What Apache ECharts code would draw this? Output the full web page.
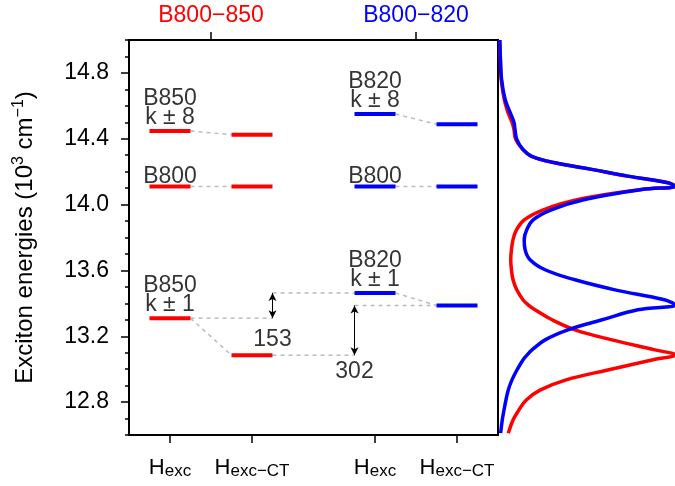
<!DOCTYPE html>
<html lang="en">
<head>
<meta charset="UTF-8">
<title>Exciton energies</title>
<script src="https://cdn.jsdelivr.net/npm/echarts@6/dist/echarts.min.js"></script>
<style>
  html, body { margin: 0; padding: 0; background: #fff; }
  #main { width: 675px; height: 486px; }
</style>
</head>
<body>
<div id="main"></div>
<script>
// diagram columns (x positions on a 0..9 axis)
var columnPos = [1, 3, 6, 8];
var columnSub = ['exc', 'exc\u2212CT', 'exc', 'exc\u2212CT'];
var systemPos = [2, 7];
var systemNames = ['B800\u2212850', 'B800\u2212820'];
var yTicks = [12.8, 13.2, 13.6, 14.0, 14.4, 14.8];

// exciton levels (10^3 cm^-1), order: k±1, B800, k±8
var levelNames850 = ['B850\nk \u00b1 1', 'B800', 'B850\nk \u00b1 8'];
var levelNames820 = ['B820\nk \u00b1 1', 'B800', 'B820\nk \u00b1 8'];
var exc850 = [13.31, 14.11, 14.447];
var ct850 = [13.085, 14.11, 14.425];
var exc820 = [13.463, 14.11, 14.55];
var ct820 = [13.387, 14.11, 14.488];

// shifts: [lower, upper]
var shift153 = [13.31, 13.463];
var shift302 = [13.085, 13.387];
var shiftLabels = ['153', '302'];

// spectra: energy grid and intensities of the two systems
var specE = [15.0, 14.883, 14.762, 14.64, 14.561, 14.50, 14.457, 14.396, 14.335, 14.293, 14.254, 14.214, 14.173, 14.133, 14.112, 14.092,
    14.031, 13.970, 13.909, 13.848, 13.787, 13.726, 13.665, 13.604, 13.543, 13.482, 13.422, 13.391, 13.361, 13.300, 13.239, 13.178,
    13.117, 13.087, 13.056, 12.995, 12.935, 12.874, 12.813, 12.752, 12.691, 12.611];
var spec850 = [0.01, 0.013, 0.018, 0.035, 0.056, 0.079, 0.09, 0.10, 0.14, 0.19, 0.32, 0.53, 0.73, 0.96, 1.0, 0.81,
    0.452, 0.26, 0.15, 0.105, 0.085, 0.076, 0.072, 0.076, 0.085, 0.106, 0.141, 0.17, 0.209, 0.305, 0.435, 0.644,
    0.887, 1.0, 0.87, 0.62, 0.385, 0.24, 0.16, 0.118, 0.085, 0.058];
var spec820 = [0.01, 0.014, 0.02, 0.04, 0.068, 0.09, 0.096, 0.106, 0.141, 0.19, 0.322, 0.529, 0.734, 0.96, 1.0, 0.812,
    0.49, 0.305, 0.2, 0.163, 0.148, 0.153, 0.181, 0.266, 0.435, 0.661, 0.94, 1.0, 0.79, 0.588, 0.395, 0.266,
    0.192, 0.165, 0.141, 0.107, 0.079, 0.058, 0.045, 0.034, 0.024, 0.015];

var FONT = 'Liberation Sans, Arial, sans-serif';
var RED = '#ff0000', BLUE = '#0000ff';
var series = [];

function seg(x1, y1, x2, y2, style, z) {
    series.push({
        type: 'line', xAxisIndex: 0, yAxisIndex: 0, silent: true, z: z,
        symbol: 'none', data: [[x1, y1], [x2, y2]], lineStyle: style
    });
}
var dash = { color: '#bbbbbb', width: 1.5, type: [4, 4] };

function levels(excArr, ctArr, xExc, xCt, color) {
    for (var i = 0; i < excArr.length; i++) {
        seg(xExc - 0.5, excArr[i], xExc + 0.5, excArr[i], { color: color, width: 4 }, 5);
        seg(xCt - 0.5, ctArr[i], xCt + 0.5, ctArr[i], { color: color, width: 4 }, 5);
        seg(xExc + 0.5, excArr[i], xCt - 0.5, ctArr[i], dash, 2);
    }
}
levels(exc850, ct850, columnPos[0], columnPos[1], RED);
levels(exc820, ct820, columnPos[2], columnPos[3], BLUE);

// connectors to the shift arrows
var a1 = columnPos[1] + 0.5, a2 = columnPos[2] - 0.5;
seg(columnPos[0] + 0.5, shift153[0], a1, shift153[0], dash, 2);
seg(a1, shift153[1], columnPos[2] - 0.5, shift153[1], dash, 2);
seg(columnPos[1] + 0.5, shift302[0], a2, shift302[0], dash, 2);
seg(a2, shift302[1], columnPos[3] - 0.5, shift302[1], dash, 2);

// arrows + numbers
series.push({
    type: 'scatter', xAxisIndex: 0, yAxisIndex: 0, silent: true, symbolSize: 0,
    data: [
        { value: [a1, shift153[0]], label: { distance: 10 } },
        { value: [a2, shift302[0]], label: { distance: 5 } }
    ],
    label: {
        show: true, position: 'bottom', color: '#000', fontSize: 23, fontFamily: FONT,
        formatter: function (p) { return shiftLabels[p.dataIndex]; }
    },
    markLine: {
        silent: true, symbol: ['arrow', 'arrow'], symbolSize: [6, 8],
        lineStyle: { color: '#000', width: 1, type: 'solid' },
        label: { show: false },
        data: [
            [{ coord: [a1, shift153[0]] }, { coord: [a1, shift153[1]] }],
            [{ coord: [a2, shift302[0]] }, { coord: [a2, shift302[1]] }]
        ]
    }
});

// level names
function names(arr, vals, x) {
    var d = [];
    for (var i = 0; i < arr.length; i++) {
        d.push({ value: [x, vals[i]], name: arr[i], label: { distance: arr[i].indexOf('\n') > 0 ? 4 : 0 } });
    }
    series.push({
        type: 'scatter', xAxisIndex: 0, yAxisIndex: 0, silent: true, symbolSize: 0, z: 6,
        data: d,
        label: {
            show: true, position: 'top', color: '#000', fontSize: 23, lineHeight: 19, fontFamily: FONT,
            formatter: function (p) { return p.name; }
        }
    });
}
names(levelNames850, exc850, columnPos[0]);
names(levelNames820, exc820, columnPos[2]);

// spectra
function spec(I, color, z) {
    var d = [];
    for (var i = 0; i < specE.length; i++) d.push([I[i], specE[i]]);
    series.push({
        type: 'line', xAxisIndex: 2, yAxisIndex: 2, silent: true, z: z,
        symbol: 'none', smooth: 0.4, data: d, clip: false,
        lineStyle: { color: color, width: 3.5 }
    });
}
spec(spec850, RED, 3);
spec(spec820, BLUE, 4);

var chart = echarts.init(document.getElementById('main'));
chart.setOption({
    animation: false,
    textStyle: { fontFamily: FONT },
    grid: [
        { left: 129, top: 40, width: 369, bottom: 51, show: true, borderColor: '#000', borderWidth: 2, backgroundColor: 'transparent' },
        { left: 498, top: 40, right: 0, bottom: 51 }
    ],
    xAxis: [
        {
            gridIndex: 0, type: 'value', min: 0, max: 9, position: 'bottom',
            axisLine: { show: false }, splitLine: { show: false },
            axisTick: { customValues: columnPos, length: 8, lineStyle: { color: '#000', width: 1.5 } },
            axisLabel: {
                customValues: columnPos, margin: 21, color: '#000',
                formatter: function (v) {
                    var i = columnPos.indexOf(v);
                    return '{h|H}{s|' + columnSub[i] + '}';
                },
                rich: {
                    h: { fontSize: 22, fontFamily: FONT, color: '#000', lineHeight: 24 },
                    s: { fontSize: 17, fontFamily: FONT, color: '#000', lineHeight: 17, verticalAlign: 'bottom', padding: [12, 0, 0, 0] }
                }
            }
        },
        {
            gridIndex: 0, type: 'value', min: 0, max: 9, position: 'top',
            axisLine: { show: false }, splitLine: { show: false },
            axisTick: { customValues: systemPos, length: 8, lineStyle: { color: '#000', width: 1.5 } },
            axisLabel: {
                customValues: systemPos, margin: 13,
                formatter: function (v) {
                    var i = systemPos.indexOf(v);
                    return '{' + (i === 0 ? 'r' : 'b') + '|' + systemNames[i] + '}';
                },
                rich: {
                    r: { fontSize: 23, fontFamily: FONT, color: RED },
                    b: { fontSize: 23, fontFamily: FONT, color: BLUE }
                }
            }
        },
        { gridIndex: 1, type: 'value', min: 0, max: 1, show: false }
    ],
    yAxis: [
        {
            gridIndex: 0, type: 'value', min: 12.6, max: 15.0, position: 'left',
            axisLine: { show: false }, splitLine: { show: false },
            axisTick: { customValues: yTicks, length: 8, lineStyle: { color: '#000', width: 1.5 } },
            axisLabel: {
                customValues: yTicks, margin: 20, fontSize: 23, color: '#000',
                formatter: function (v) { return v.toFixed(1); }
            },
            name: '{a|Exciton energies (10}{s|3}{a| cm}{s|\u22121}{a|)}',
            nameLocation: 'middle', nameGap: 90, nameRotate: 90,
            nameTextStyle: {
                rich: {
                    a: { fontSize: 24, fontFamily: FONT, color: '#000', lineHeight: 28 },
                    s: { fontSize: 16, fontFamily: FONT, color: '#000', lineHeight: 16, verticalAlign: 'top' }
                }
            }
        },
        {
            gridIndex: 0, type: 'value', min: 12.6, max: 15.0, interval: 0.1, position: 'left',
            axisLine: { show: false }, splitLine: { show: false }, axisLabel: { show: false },
            axisTick: { length: 4, lineStyle: { color: '#000', width: 1.5 } }
        },
        { gridIndex: 1, type: 'value', min: 12.6, max: 15.0, show: false }
    ],
    series: series
});
</script>
</body>
</html>
